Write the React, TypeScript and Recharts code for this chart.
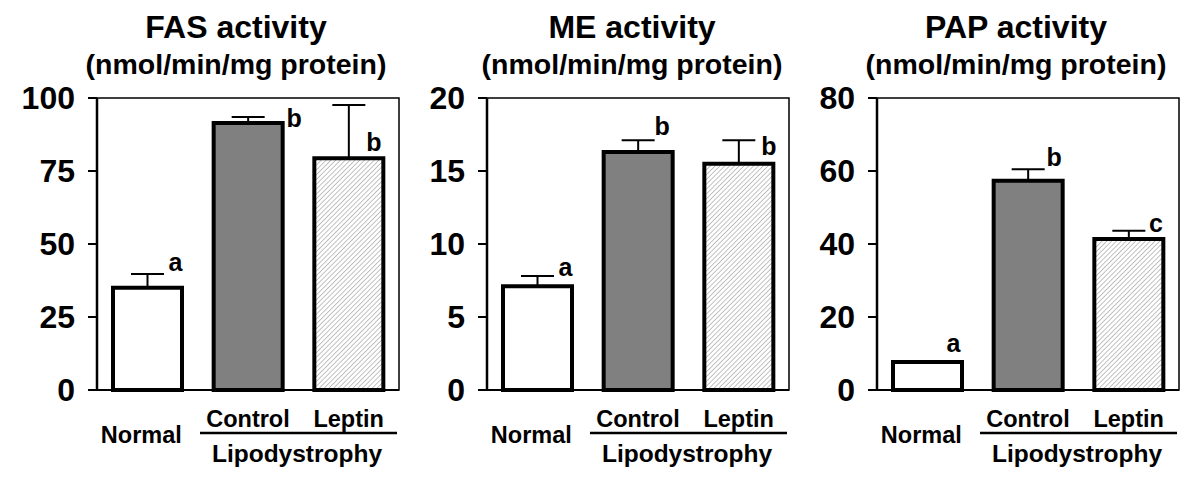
import React from "react";
import { BarChart, Bar, XAxis, YAxis, ErrorBar, Cell, LabelList, ReferenceArea } from "recharts";

const groups = ["Normal", "Control", "Leptin"];

// FAS activity
const fasMean = [35, 91.4, 79.4];
const fasErr = [4.7, 2.1, 18.2];
const fasLetters = ["a", "b", "b"];
const fasLetterAt = [43.8, 93.2, 85];
const fasLetterDx = [28, 46, 25];
const fasTicks = [0, 25, 50, 75, 100];

// ME activity
const meMean = [7.1, 16.3, 15.5];
const meErr = [0.7, 0.8, 1.6];
const meLetters = ["a", "b", "b"];
const meLetterAt = [8.4, 18.1, 16.7];
const meLetterDx = [28, 24, 30];
const meTicks = [0, 5, 10, 15, 20];

// PAP activity
const papMean = [7.7, 57.3, 41.4];
const papErr = [0, 3.2, 2.2];
const papLetters = ["a", "b", "c"];
const papLetterAt = [12.9, 63.8, 45.8];
const papLetterDx = [26, 26, 27];
const papTicks = [0, 20, 40, 60, 80];

const FONT = "'Liberation Sans', Arial, Helvetica, sans-serif";
const fills = ["#ffffff", "#808080", "url(#hatch)"];

function build(mean: number[], err: number[], letters: string[], at: number[], dx: number[]) {
  return groups.map((name, i) => ({
    name,
    mean: mean[i],
    err: [0, err[i]],
    letter: letters[i],
    letterAt: at[i],
    letterDx: dx[i],
  }));
}

const GroupTick = (props: any) => {
  const { x, y, index, payload } = props;
  const st = { fontFamily: FONT, fontWeight: 700, fill: "#000" } as any;
  if (index === 0) {
    return (
      <text x={x - 6} y={y + 53} textAnchor="middle" fontSize={23.5} style={st}>
        {payload.value}
      </text>
    );
  }
  return (
    <g>
      <text x={x} y={y + 37} textAnchor="middle" fontSize={23.5} style={st}>
        {payload.value}
      </text>
      {index === 1 && (
        <g>
          <line x1={x - 48} x2={x + 149} y1={y + 43} y2={y + 43} stroke="#000" strokeWidth={2.5} />
          <text x={x + 49} y={y + 72} textAnchor="middle" fontSize={24.5} style={st}>
            Lipodystrophy
          </text>
        </g>
      )}
    </g>
  );
};

const LetterLabel = (props: any) => {
  const { x, y, width, height, index, rows } = props;
  const r = rows[index];
  const pxPer = height / r.mean;
  const ly = y + height - r.letterAt * pxPer;
  return (
    <text
      x={x + width / 2 + r.letterDx}
      y={ly}
      dy="0.36em"
      textAnchor="middle"
      fontSize={25}
      style={{ fontFamily: FONT, fontWeight: 700, fill: "#000" }}
    >
      {r.letter}
    </text>
  );
};

function Panel({ left, rows, max, ticks }: { left: number; rows: any[]; max: number; ticks: number[] }) {
  return (
    <div style={{ position: "absolute", left, top: 0 }}>
      <BarChart width={410} height={478} data={rows} margin={{ top: 98, right: 11, bottom: 0, left: 0 }} barSize={69}>
        <ReferenceArea y1={0} y2={max} fill="none" stroke="#000" strokeWidth={1.5} />
        <XAxis
          dataKey="name"
          interval={0}
          height={88}
          tickLine={false}
          tickSize={0}
          tickMargin={0}
          axisLine={{ stroke: "#000", strokeWidth: 2 }}
          tick={<GroupTick />}
        />
        <YAxis
          domain={[0, max]}
          ticks={ticks}
          width={97}
          tickSize={9}
          tickMargin={13}
          axisLine={{ stroke: "#000", strokeWidth: 2.5 }}
          tickLine={{ stroke: "#000", strokeWidth: 2 }}
          tick={{ fill: "#000", fontSize: 32, fontWeight: 700, fontFamily: FONT }}
        />
        <Bar dataKey="mean" stroke="#000" strokeWidth={4} isAnimationActive={false}>
          {rows.map((_, i) => (
            <Cell key={i} fill={fills[i]} />
          ))}
          <ErrorBar dataKey="err" width={16.5} stroke="#000" strokeWidth={2} direction="y" />
          <LabelList dataKey="letter" content={<LetterLabel rows={rows} />} />
        </Bar>
      </BarChart>
    </div>
  );
}

const titles = [
  { cx: 236, name: "FAS activity" },
  { cx: 632, name: "ME activity" },
  { cx: 1016, name: "PAP activity" },
];

export default function App() {
  return (
    <div style={{ position: "absolute", left: 0, top: 0, width: 1200, height: 478, background: "#fff" }}>
      <svg width={0} height={0} style={{ position: "absolute" }}>
        <defs>
          <pattern id="hatch" width={3.4} height={3.4} patternUnits="userSpaceOnUse" patternTransform="rotate(45)">
            <rect width={3.4} height={3.4} fill="#ffffff" />
            <line x1={0} y1={0} x2={0} y2={3.4} stroke="#9a9a9a" strokeWidth={1.2} />
          </pattern>
        </defs>
      </svg>
      <svg width={1200} height={478} style={{ position: "absolute", left: 0, top: 0 }}>
        {titles.map((t) => (
          <g key={t.name} style={{ fontFamily: FONT, fontWeight: 700 }}>
            <text x={t.cx} y={38} textAnchor="middle" fontSize={32} fill="#000">
              {t.name}
            </text>
            <text x={t.cx} y={74} textAnchor="middle" fontSize={28.5} fill="#000">
              (nmol/min/mg protein)
            </text>
          </g>
        ))}
      </svg>
      <Panel left={0} rows={build(fasMean, fasErr, fasLetters, fasLetterAt, fasLetterDx)} max={100} ticks={fasTicks} />
      <Panel left={390} rows={build(meMean, meErr, meLetters, meLetterAt, meLetterDx)} max={20} ticks={meTicks} />
      <Panel left={780} rows={build(papMean, papErr, papLetters, papLetterAt, papLetterDx)} max={80} ticks={papTicks} />
    </div>
  );
}
